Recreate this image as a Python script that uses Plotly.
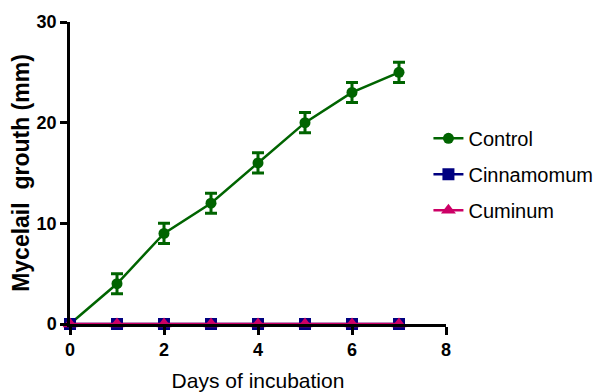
import plotly.graph_objects as go

days = [0, 1, 2, 3, 4, 5, 6, 7]
control = [0, 4, 9, 12, 16, 20, 23, 25]
control_err = [0, 1, 1, 1, 1, 1, 1, 1]
cinnamomum = [0, 0, 0, 0, 0, 0, 0, 0]
cuminum = [0, 0, 0, 0, 0, 0, 0, 0]

FONT = "Liberation Sans, Arial"

fig = go.Figure()
fig.add_trace(go.Scatter(
    x=days, y=control, name="Control", mode="lines+markers",
    line=dict(color="#006400", width=2.5),
    marker=dict(symbol="circle", size=11, color="#006400"),
    error_y=dict(type="data", array=control_err, visible=True,
                 color="#006400", thickness=3, width=6),
    cliponaxis=False, legendgroup="a"))
fig.add_trace(go.Scatter(
    x=days, y=cinnamomum, name="Cinnamomum", mode="lines+markers",
    line=dict(color="#000080", width=2.5),
    marker=dict(symbol="square", size=12, color="#000080"),
    cliponaxis=False, legendgroup="b"))
fig.add_trace(go.Scatter(
    x=days, y=cuminum, name="Cuminum", mode="lines+markers",
    line=dict(color="#CC0066", width=2.5),
    marker=dict(symbol="triangle-up", size=13, color="#CC0066"),
    cliponaxis=False, legendgroup="c"))

fig.update_layout(
    width=593, height=384,
    margin=dict(l=62, r=155, t=14, b=68, autoexpand=False),
    paper_bgcolor="white", plot_bgcolor="white",
    font=dict(family=FONT, color="black"),
    showlegend=True,
    legend=dict(xref="container", yref="container", x=0.709, y=0.567,
                xanchor="left", yanchor="middle",
                font=dict(family=FONT, size=20),
                tracegroupgap=7, itemwidth=30, bgcolor="rgba(0,0,0,0)"),
    xaxis=dict(range=[0, 8], tickvals=[0, 2, 4, 6, 8], automargin=False,
               showline=True, linecolor="black", linewidth=2.5,
               ticks="outside", ticklen=8, tickwidth=2.5, tickcolor="black",
               showgrid=False, zeroline=False,
               tickfont=dict(family=FONT, size=18, weight="bold"),
               title=dict(text="Days of incubation", standoff=16,
                          font=dict(family=FONT, size=21))),
    yaxis=dict(range=[0, 30], tickvals=[0, 10, 20, 30], automargin=False,
               showline=True, linecolor="black", linewidth=2.5,
               ticks="outside", ticklen=7, tickwidth=2.5, tickcolor="black",
               showgrid=False, zeroline=False,
               tickfont=dict(family=FONT, size=18, weight="bold"),
               title=dict(text="Mycelail&nbsp; grouth (mm)", standoff=3,
                          font=dict(family=FONT, size=23, weight="bold"))),
)

fig.write_html("out.html")
